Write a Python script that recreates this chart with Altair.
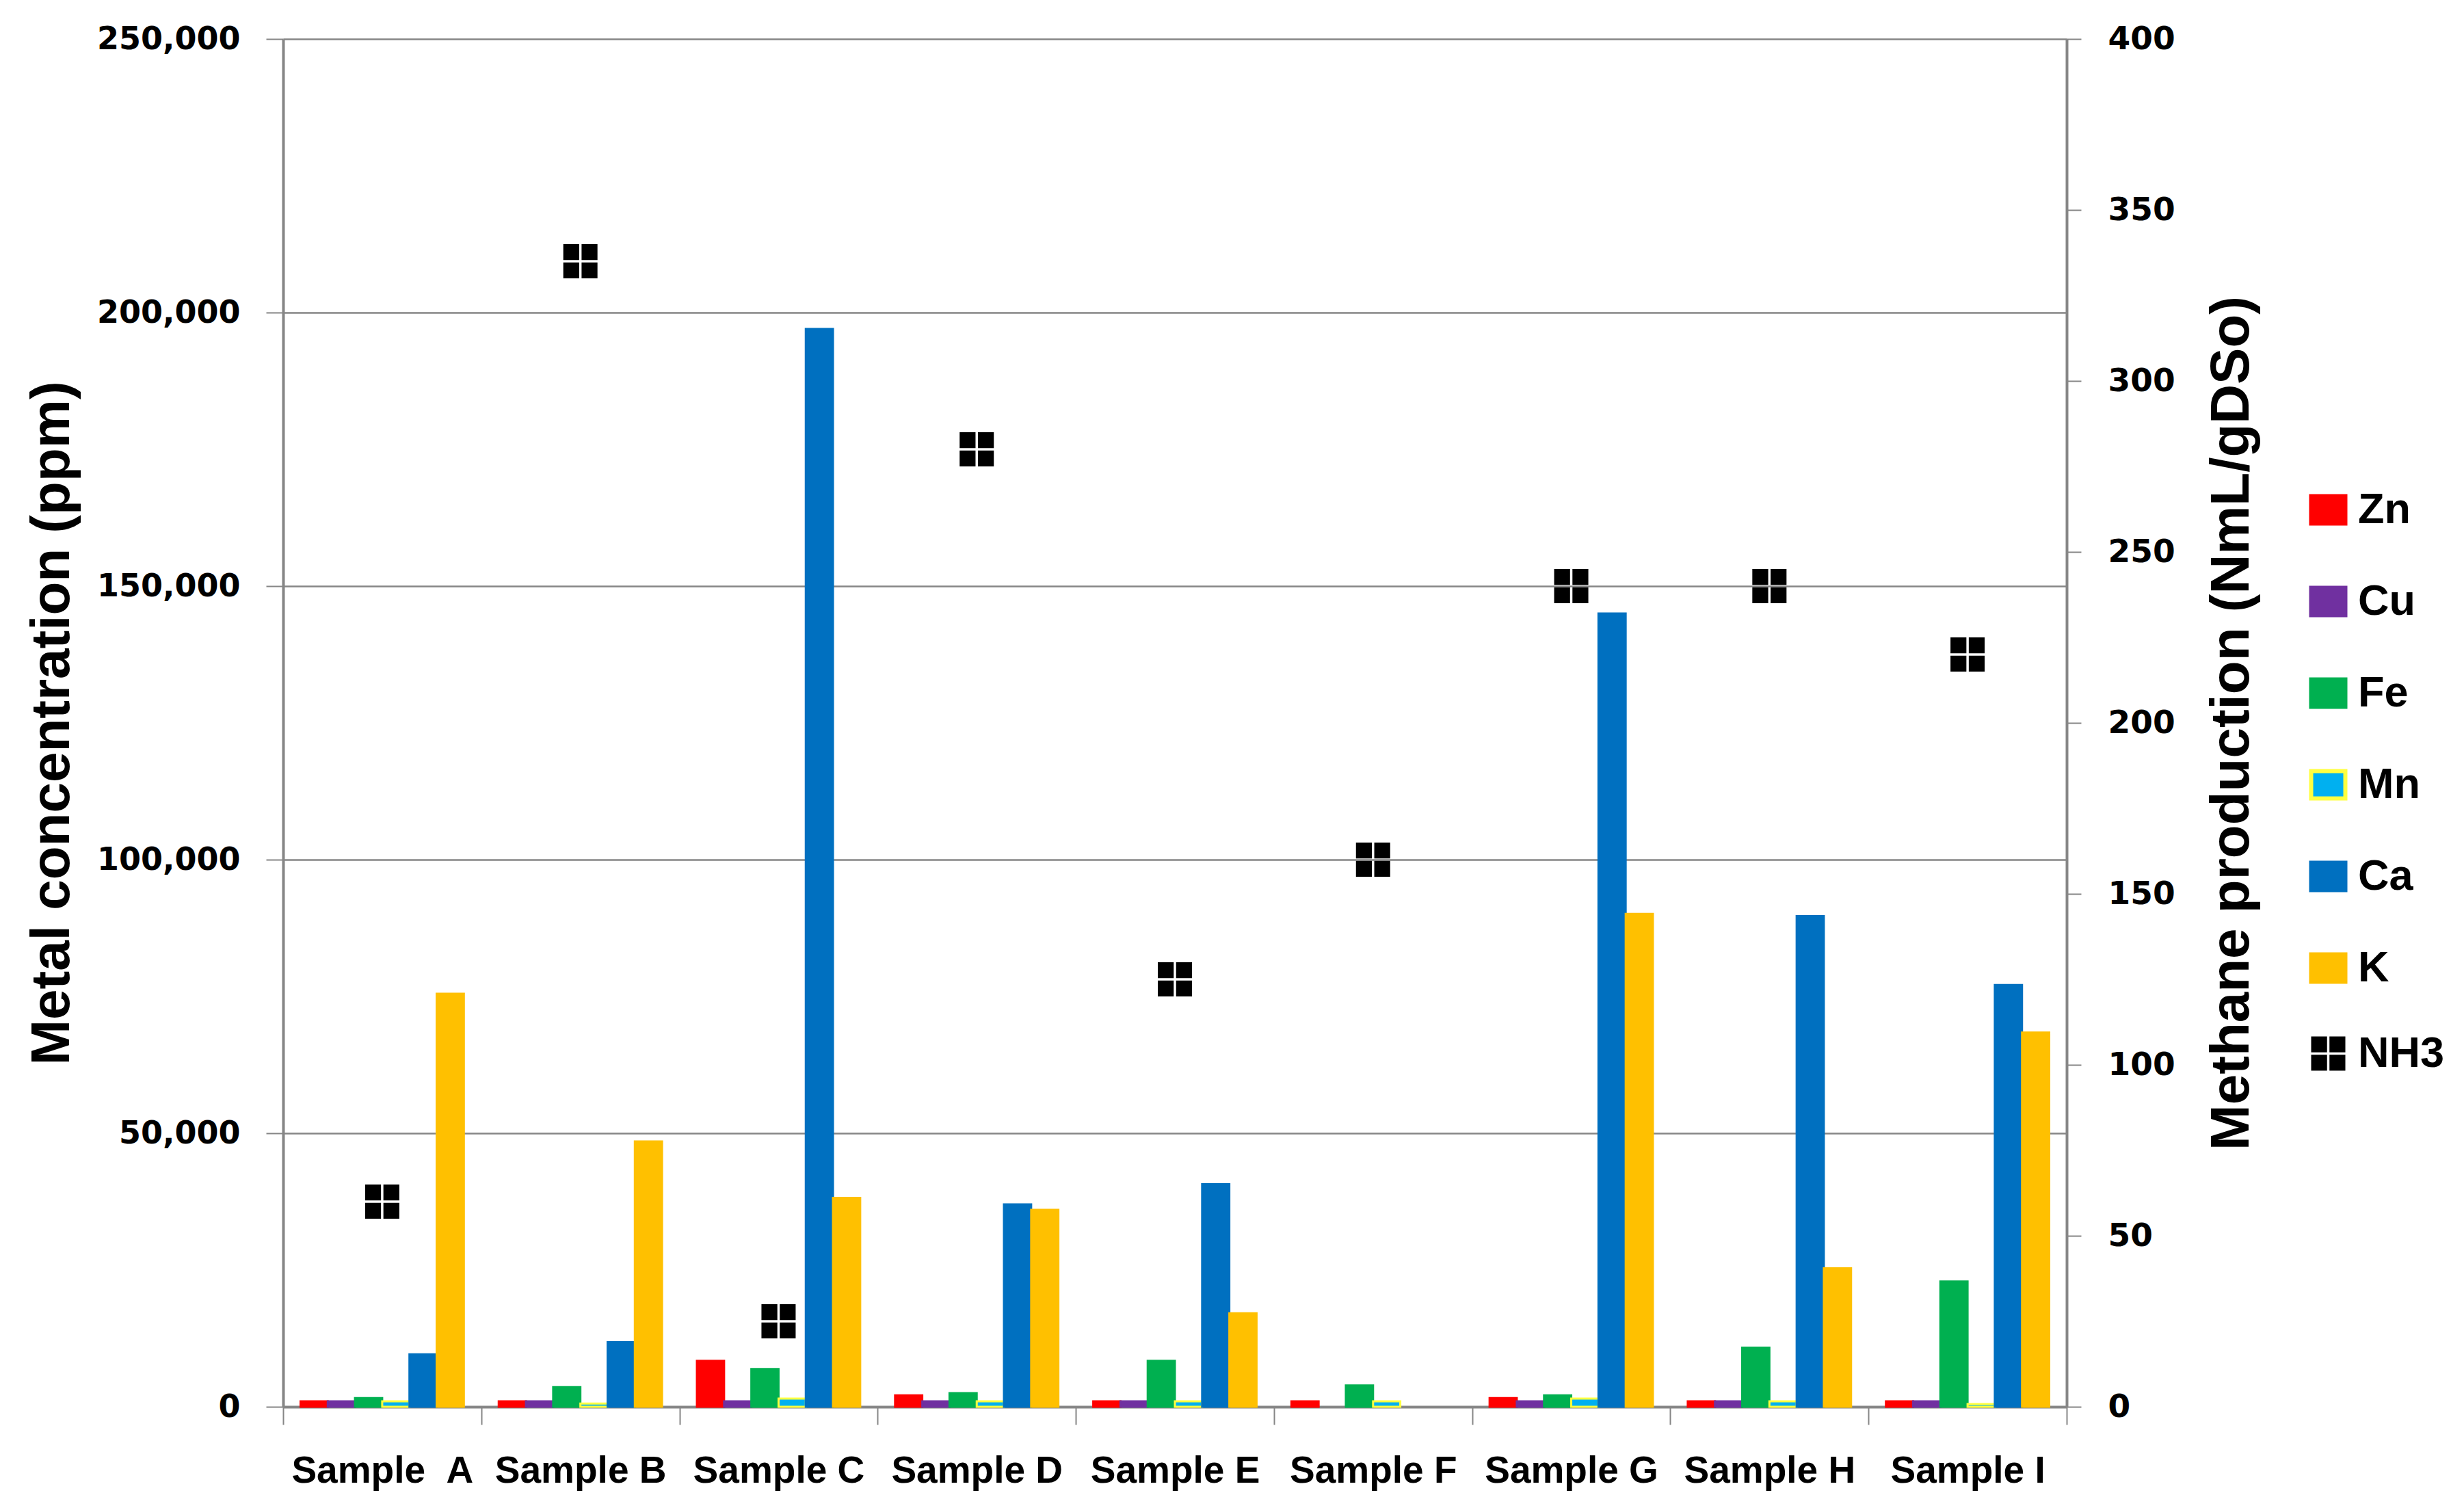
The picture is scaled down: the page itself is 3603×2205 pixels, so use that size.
import altair as alt
import pandas as pd

# ---------------- data ----------------
samples = ["Sample\u00a0\u00a0A", "Sample B", "Sample C", "Sample D", "Sample E",
           "Sample F", "Sample G", "Sample H", "Sample I"]
metals = ["Zn", "Cu", "Fe", "Mn", "Ca", "K"]

zn = [1000, 1000, 8400, 2100, 1000, 1000, 1600, 1000, 1000]
cu = [1000, 1000, 1000, 1000, 1000, 0, 1000, 1000, 1000]
fe = [1600, 3600, 6900, 2500, 8400, 3900, 2100, 10800, 22900]
mn = [1000, 600, 1500, 1000, 1000, 1000, 1500, 1000, 500]
ca = [9600, 11800, 197000, 37000, 40700, 0, 145000, 89700, 77100]
k = [75500, 48500, 38200, 36000, 17100, 0, 90100, 25300, 68400]
nh3 = [60, 335, 25, 280, 125, 160, 240, 240, 220]

fill_colors = ["#FF0000", "#7030A0", "#00B050", "#00B0F0", "#0070C0", "#FFC000"]
stroke_colors = ["#FF0000", "#7030A0", "#00B050", "#FFFF40", "#0070C0", "#FFC000"]

series = {"Zn": zn, "Cu": cu, "Fe": fe, "Mn": mn, "Ca": ca, "K": k}
rows = []
for m in metals:
    for s, v in zip(samples, series[m]):
        if v > 0:
            rows.append({"sample": s, "metal": m, "ppm": v})
bars_df = pd.DataFrame(rows)
nh3_df = pd.DataFrame({"sample": samples, "nh3": nh3, "series": ["NH3"] * len(samples)})

rect_path = "M-1,-0.8L1,-0.8L1,0.8L-1,0.8Z"
g = 0.07
win_path = (f"M-1,-1H-{g}V-{g}H-1Z M{g},-1H1V-{g}H{g}Z "
            f"M-1,{g}H-{g}V1H-1Z M{g},{g}H1V1H{g}Z")

GRAY = "#868686"

legend_metal = alt.Legend(
    title=None, orient="none", legendX=2959, legendY=657,
    symbolType=rect_path, symbolSize=2500, symbolStrokeWidth=6,
    labelFont="Liberation Sans", labelFontWeight="bold", labelFontSize=63,
    labelColor="black", labelOffset=12, rowPadding=69, padding=0, labelLimit=0,
)

x_enc = alt.X(
    "sample:N", sort=samples,
    scale=alt.Scale(domain=samples, paddingInner=0, paddingOuter=0),
    axis=alt.Axis(
        title=None, tickBand="extent", labelAngle=0,
        labelFont="Liberation Sans", labelFontWeight="bold", labelFontSize=55,
        labelColor="black", labelPadding=41, labelLimit=0,
        tickSize=26, tickColor=GRAY, tickWidth=2,
        domainColor=GRAY, domainWidth=4, grid=False,
    ),
)

bars = alt.Chart(bars_df).mark_bar(strokeWidth=3).encode(
    x=x_enc,
    xOffset=alt.XOffset("metal:N", sort=metals,
                        scale=alt.Scale(domain=metals, paddingInner=0, paddingOuter=0.64)),
    y=alt.Y(
        "ppm:Q",
        scale=alt.Scale(domain=[0, 250000], nice=False),
        axis=alt.Axis(
            values=[0, 50000, 100000, 150000, 200000, 250000], format=",d",
            labelFont="DejaVu Sans", labelFontWeight="bold", labelFontSize=46,
            labelColor="black", labelPadding=38, labelLimit=0,
            tickSize=25, tickColor=GRAY, tickWidth=2,
            domainColor=GRAY, domainWidth=4,
            grid=True, gridColor=GRAY, gridWidth=2.5,
            title="Metal concentration (ppm)", titleFont="Liberation Sans",
            titleFontSize=80, titleFontWeight="bold", titleColor="black",
            titleX=-338, titleY=1000, titleAngle=270,
            titleAlign="center", titleBaseline="middle", titleLimit=0,
        ),
    ),
    fill=alt.Fill("metal:N", scale=alt.Scale(domain=metals, range=fill_colors),
                  legend=legend_metal),
    stroke=alt.Stroke("metal:N", scale=alt.Scale(domain=metals, range=stroke_colors),
                      legend=legend_metal),
)

points = alt.Chart(nh3_df).mark_point(filled=True, size=2500, opacity=1, strokeWidth=0).encode(
    x=alt.X("sample:N", sort=samples),
    y=alt.Y(
        "nh3:Q",
        scale=alt.Scale(domain=[0, 400], nice=False),
        axis=alt.Axis(
            orient="right", values=[0, 50, 100, 150, 200, 250, 300, 350, 400],
            labelFont="DejaVu Sans", labelFontWeight="bold", labelFontSize=47,
            labelColor="black", labelPadding=39, labelLimit=0,
            tickSize=21, tickColor=GRAY, tickWidth=2,
            domainColor=GRAY, domainWidth=4, grid=False,
            title="Methane production (NmL/gDSo)", titleFont="Liberation Sans",
            titleFontSize=80, titleFontWeight="bold", titleColor="black",
            titleX=241, titleY=1000, titleAngle=270,
            titleAlign="center", titleBaseline="middle", titleLimit=0,
        ),
    ),
    shape=alt.Shape("series:N", scale=alt.Scale(domain=["NH3"], range=[win_path]),
                    legend=alt.Legend(
                        title=None, orient="none", legendX=2959, legendY=1452,
                        symbolSize=2500, symbolFillColor="black", symbolStrokeWidth=0,
                        labelFont="Liberation Sans", labelFontWeight="bold",
                        labelFontSize=63, labelColor="black", labelOffset=12, padding=0,
                        labelLimit=0,
                    )),
    color=alt.value("black"),
)

chart = alt.layer(bars, points).resolve_scale(y="independent").properties(
    width=2608, height=2000,
    autosize=alt.AutoSizeParams(type="none"),
    padding={"left": 406, "top": 49, "right": 573, "bottom": 140},
    background="white",
).configure_view(stroke=None)

chart.save("out.html", embed_options={"renderer": "svg", "actions": False})
